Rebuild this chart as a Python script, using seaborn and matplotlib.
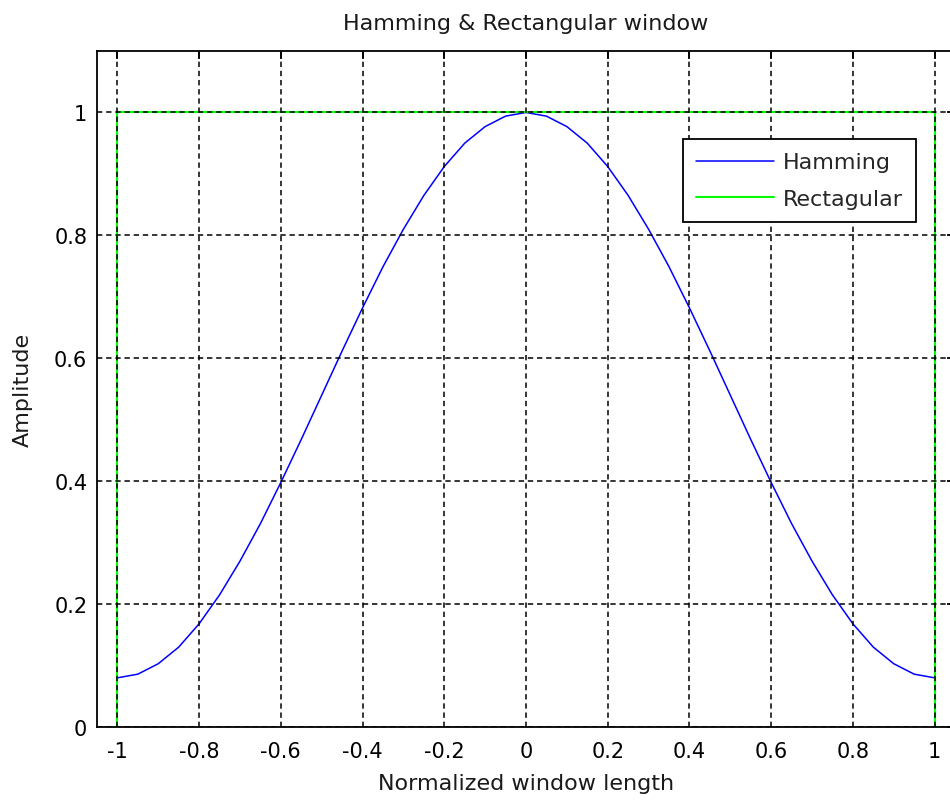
import numpy as np
import pandas as pd
import matplotlib
matplotlib.use("Agg")
import matplotlib.pyplot as plt
import seaborn as sns

# ---- data ----
ham_x = [-1.00, -0.95, -0.90, -0.85, -0.80, -0.75, -0.70, -0.65, -0.60, -0.55,
         -0.50, -0.45, -0.40, -0.35, -0.30, -0.25, -0.20, -0.15, -0.10, -0.05,
         0.00, 0.05, 0.10, 0.15, 0.20, 0.25, 0.30, 0.35, 0.40, 0.45,
         0.50, 0.55, 0.60, 0.65, 0.70, 0.75, 0.80, 0.85, 0.90, 0.95, 1.00]
ham_y = [0.080, 0.086, 0.103, 0.130, 0.168, 0.215, 0.270, 0.331, 0.398, 0.468,
         0.540, 0.612, 0.682, 0.749, 0.810, 0.865, 0.912, 0.950, 0.977, 0.994,
         1.000, 0.994, 0.977, 0.950, 0.912, 0.865, 0.810, 0.749, 0.682, 0.612,
         0.540, 0.468, 0.398, 0.331, 0.270, 0.215, 0.168, 0.130, 0.103, 0.086, 0.080]
rect_x = [-1.0, -1.0, 1.0, 1.0]
rect_y = [0.0, 1.0, 1.0, 0.0]

x_ticks = [-1, -0.8, -0.6, -0.4, -0.2, 0, 0.2, 0.4, 0.6, 0.8, 1]
x_tick_labels = ["-1", "-0.8", "-0.6", "-0.4", "-0.2", "0", "0.2", "0.4", "0.6", "0.8", "1"]
y_ticks = [0, 0.2, 0.4, 0.6, 0.8, 1]
y_tick_labels = ["0", "0.2", "0.4", "0.6", "0.8", "1"]

title = "Hamming & Rectangular window"
xlabel = "Normalized window length"
ylabel = "Amplitude"
legend_labels = ["Hamming", "Rectagular"]

sns.set_style("white")
plt.rcParams["font.family"] = ["DejaVu Sans"]

fig = plt.figure(figsize=(9.5, 8.03), dpi=100)
fig.patch.set_facecolor("white")
ax = fig.add_axes([97 / 950, 1 - 728 / 803, 858 / 950, (728 - 52) / 803])

ham_df = pd.DataFrame({"x": ham_x, "y": ham_y})
rect_df = pd.DataFrame({"x": rect_x, "y": rect_y})

sns.lineplot(data=ham_df, x="x", y="y", ax=ax, color="#0000ff", lw=1.1,
             sort=False, estimator=None, errorbar=None, label=legend_labels[0])
sns.lineplot(data=rect_df, x="x", y="y", ax=ax, color="#00ff00", lw=1.5,
             sort=False, estimator=None, errorbar=None, label=legend_labels[1])

ax.set_xlim(-1.05, 1.05)
ax.set_ylim(0, 1.1)
ax.set_xticks(x_ticks)
ax.set_xticklabels(x_tick_labels)
ax.set_yticks(y_ticks)
ax.set_yticklabels(y_tick_labels)

ax.set_axisbelow(False)
ax.grid(True, color="black", linestyle=(0, (3.5, 2.5)), lw=1.1)
# the horizontal grid line at y=1 sits under the green line in the reference
ax.yaxis.get_gridlines()[-1].set_zorder(1)
for sp in ax.spines.values():
    sp.set_visible(True)
    sp.set_color("black")
    sp.set_linewidth(1.3)

ax.tick_params(direction="in", length=6, width=1.3, top=True, right=True,
               labelsize=15, colors="black")
ax.tick_params(axis="x", pad=10)
ax.tick_params(axis="y", pad=7)

ax.set_title(title, fontsize=16, pad=16, color="#1a1a1a")
ax.set_xlabel(xlabel, fontsize=16, labelpad=9, color="#1a1a1a")
ax.set_ylabel(ylabel, fontsize=16, labelpad=15.5, color="#1a1a1a")

leg = ax.legend(loc="upper right", bbox_to_anchor=(916 / 950, 1 - 140 / 803),
                bbox_transform=fig.transFigure, fontsize=16, handlelength=3.5,
                fancybox=False, framealpha=1, edgecolor="black",
                borderpad=0.6, labelspacing=0.75, handletextpad=0.4,
                borderaxespad=0)
leg.get_frame().set_linewidth(1.3)

fig.savefig("out.png", dpi=100, facecolor="white")
